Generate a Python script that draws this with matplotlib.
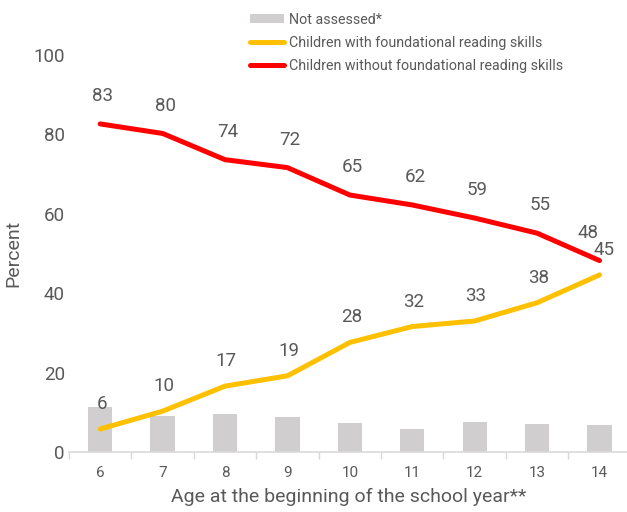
import matplotlib
matplotlib.use('Agg')
import matplotlib.pyplot as plt
import numpy as np
from matplotlib.ticker import FixedLocator

plt.rcParams['font.family'] = ['Roboto', 'DejaVu Sans']

ages = ['6', '7', '8', '9', '10', '11', '12', '13', '14']
not_assessed = [11.3, 9.2, 9.5, 8.9, 7.4, 5.7, 7.6, 7.1, 6.9]
with_skills = [5.8, 10.3, 16.6, 19.2, 27.6, 31.6, 33.0, 37.6, 44.6]
without_skills = [82.6, 80.2, 73.6, 71.6, 64.7, 62.2, 58.9, 55.1, 48.2]

txt = '#595959'

fig = plt.figure(figsize=(6.27, 5.12), dpi=100)
ax = fig.add_axes([0.110, 0.117, 0.893, 0.776])
x = np.arange(len(ages))

b = ax.bar(x, not_assessed, width=0.39, color='#D0CECE', zorder=1)
l1, = ax.plot(x, with_skills, color='#FFC000', lw=3.6, solid_capstyle='round',
              solid_joinstyle='round', zorder=3)
l2, = ax.plot(x, without_skills, color='#FF0000', lw=3.6, solid_capstyle='round',
              solid_joinstyle='round', zorder=3)

for i in range(len(ages)):
    dx = -10 if i == len(ages) - 1 else 0
    ax.annotate(str(int(round(without_skills[i]))), (x[i], without_skills[i]),
                xytext=(dx + 2, 20), textcoords='offset points', ha='center', va='center',
                fontsize=13.5, color=txt)
    dx = 2 if i == len(ages) - 1 else 0
    ax.annotate(str(int(round(with_skills[i]))), (x[i], with_skills[i]),
                xytext=(dx + 1, 18), textcoords='offset points', ha='center', va='center',
                fontsize=13.5, color=txt)

ax.set_xlim(-0.5, 8.47)
ax.set_ylim(0, 100)
ax.set_xticks(x)
ax.set_xticklabels(ages, fontsize=11, color=txt)
ax.xaxis.set_minor_locator(FixedLocator(np.arange(-0.5, 9.0, 1)))
ax.tick_params(axis='x', which='major', length=0, pad=10)
ax.tick_params(axis='x', which='minor', length=5, color='#D9D9D9', width=1)
ax.set_yticks([0, 20, 40, 60, 80, 100])
ax.tick_params(axis='y', length=0, labelsize=13.5, labelcolor=txt, pad=3)
for s in ['top', 'right', 'left']:
    ax.spines[s].set_visible(False)
ax.spines['bottom'].set_color('#D9D9D9')
ax.spines['bottom'].set_linewidth(1.2)
ax.set_xlabel('Age at the beginning of the school year**', fontsize=14, color=txt, labelpad=6)
ax.set_ylabel('Percent', fontsize=14, color=txt, labelpad=8)

fig.legend([b, l1, l2],
           ['Not assessed*', 'Children with foundational reading skills',
            'Children without foundational reading skills'],
           loc='upper left', bbox_to_anchor=(0.378, 1.0), frameon=False, fontsize=10.3,
           labelcolor=txt, handlelength=2.4, handleheight=0.6, handletextpad=0.3,
           labelspacing=0.62)

fig.savefig('out.png', dpi=100)
